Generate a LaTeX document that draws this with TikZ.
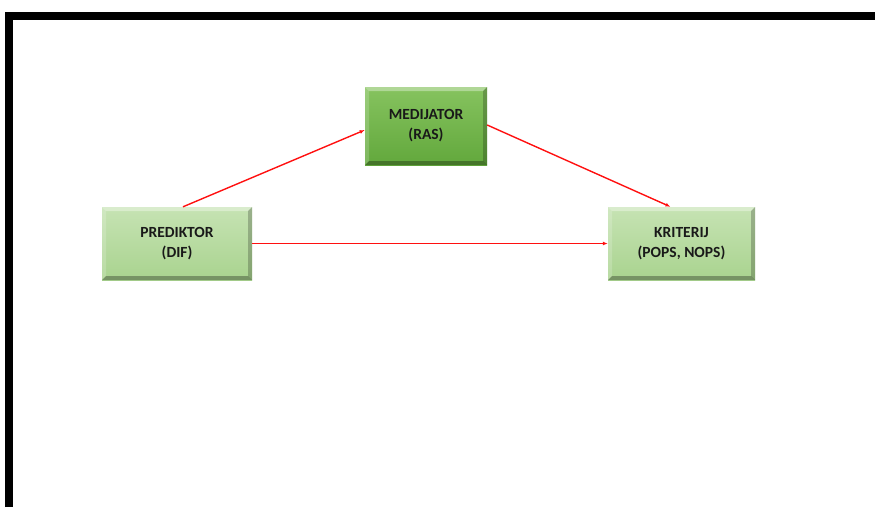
\documentclass[tikz,border=0pt]{standalone}
\usepackage{fontspec}
\setmainfont{Carlito}
\usetikzlibrary{arrows.meta}
\definecolor{medtop}{HTML}{86C35F}
\definecolor{medbot}{HTML}{62A83C}
\definecolor{lighttop}{HTML}{C6E3B3}
\definecolor{lightbot}{HTML}{A9D38F}
\definecolor{arrowred}{HTML}{FF1010}
\tikzset{
  bevel/.style={path picture={
    \fill[white,opacity=0.35] (path picture bounding box.north west) -- (path picture bounding box.north east)
      -- ([xshift=-4pt,yshift=-4pt]path picture bounding box.north east) -- ([xshift=4pt,yshift=-4pt]path picture bounding box.north west) -- cycle;
    \fill[white,opacity=0.18] (path picture bounding box.north west) -- ([xshift=4pt,yshift=-4pt]path picture bounding box.north west)
      -- ([xshift=4pt,yshift=4pt]path picture bounding box.south west) -- (path picture bounding box.south west) -- cycle;
    \fill[black,opacity=0.30] (path picture bounding box.south west) -- (path picture bounding box.south east)
      -- ([xshift=-4pt,yshift=4pt]path picture bounding box.south east) -- ([xshift=4pt,yshift=4pt]path picture bounding box.south west) -- cycle;
    \fill[black,opacity=0.22] (path picture bounding box.north east) -- (path picture bounding box.south east)
      -- ([xshift=-4pt,yshift=4pt]path picture bounding box.south east) -- ([xshift=-4pt,yshift=-4pt]path picture bounding box.north east) -- cycle;
  }},
  varbox/.style={rectangle, bevel, inner sep=0pt, align=center, text=black!90,
    font=\fontsize{15.5}{20}\selectfont\bfseries},
  darkbox/.style={varbox, top color=medtop, bottom color=medbot},
  lightbox/.style={varbox, top color=lighttop, bottom color=lightbot},
  link/.style={draw=arrowred, line width=1.4pt, -{Latex[length=5pt,width=4pt]}}
}
\begin{document}
\begin{tikzpicture}[x=1pt,y=-1pt]
\useasboundingbox (0,0) rectangle (875,507);
% frame
\draw[line width=8pt] (9,507) -- (9,16) -- (875,16);
% variables
\node [darkbox, minimum width=122pt, minimum height=78pt] (med) at (426,126) {MEDIJATOR\\(RAS)};
\node [lightbox, minimum width=150pt, minimum height=73pt] (pred) at (177,243.5) {PREDIKTOR\\(DIF)};
\node [lightbox, minimum width=147pt, minimum height=73pt] (krit) at (681.5,243.5) {KRITERIJ\\(POPS, NOPS)};
% paths
\draw [link] ([xshift=6pt]pred.north) -- ([yshift=-4pt]med.west);
\draw [link] ([yshift=1pt]med.east) -- ([xshift=-11pt]krit.north);
\draw [link] (pred.east) -- (krit.west);
\end{tikzpicture}
\end{document}
